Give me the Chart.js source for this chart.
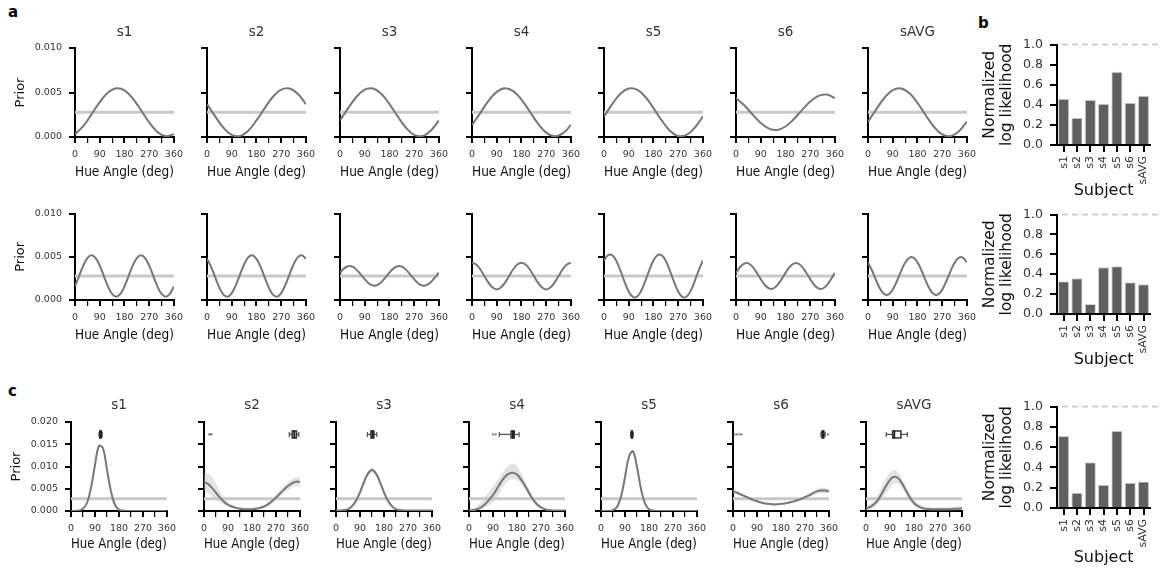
<!DOCTYPE html>
<html>
<head>
<meta charset="utf-8">
<script src="https://cdn.jsdelivr.net/npm/chart.js@4.4.1/dist/chart.umd.min.js"></script>
<style>
  body { margin: 0; background: #fff; width: 1161px; height: 570px; position: relative; overflow: hidden; }
  .panel { position: absolute; }
  .tag { position: absolute; font: bold 15px 'DejaVu Sans', sans-serif; line-height: 15px; color: #000; }
</style>
</head>
<body>
<div class="tag" style="left:8px;top:5px">a</div>
<div class="tag" style="left:978px;top:16px">b</div>
<div class="tag" style="left:8px;top:384px">c</div>
<script>
// ---- data ----
const subjects = ['s1', 's2', 's3', 's4', 's5', 's6', 'sAVG'];
const uniformPrior = 0.00278;
const anglesCoarse = [0, 30, 60, 90, 120, 150, 180, 210, 240, 270, 300, 330, 360];
const anglesFine = [0, 15, 30, 45, 60, 75, 90, 105, 120, 135, 150, 165, 180,
  195, 210, 225, 240, 255, 270, 285, 300, 315, 330, 345, 360];

// panel a, top row (first harmonic prior), one list per subject
const priorFirst = [
  [0.0003, 0.00123, 0.00254, 0.00392, 0.00499, 0.00547, 0.00523, 0.00433, 0.00302, 0.00164, 0.00057, 0.00009, 0.0003],
  [0.0037, 0.00231, 0.00104, 0.00024, 0.00012, 0.00071, 0.00186, 0.00325, 0.00452, 0.00532, 0.00544, 0.00485, 0.0037],
  [0.00186, 0.00325, 0.00452, 0.00532, 0.00544, 0.00485, 0.0037, 0.00231, 0.00104, 0.00024, 0.00012, 0.00071, 0.00186],
  [0.00135, 0.00269, 0.00405, 0.00507, 0.00548, 0.00516, 0.00421, 0.00287, 0.00151, 0.00049, 0.00008, 0.0004, 0.00135],
  [0.00231, 0.0037, 0.00485, 0.00544, 0.00532, 0.00452, 0.00325, 0.00186, 0.00071, 0.00012, 0.00024, 0.00104, 0.00231],
  [0.00438, 0.00356, 0.00254, 0.00158, 0.00094, 0.00079, 0.00118, 0.002, 0.00302, 0.00398, 0.00462, 0.00477, 0.00438],
  [0.00172, 0.00311, 0.00441, 0.00527, 0.00546, 0.00494, 0.00384, 0.00245, 0.00115, 0.00029, 0.0001, 0.00062, 0.00172]
];

// panel a, bottom row (second harmonic prior)
const priorSecond = [
  [0.00158, 0.00278, 0.00398, 0.00486, 0.00518, 0.00486, 0.00398, 0.00278, 0.00158, 0.0007, 0.00038, 0.0007, 0.00158,
   0.00278, 0.00398, 0.00486, 0.00518, 0.00486, 0.00398, 0.00278, 0.00158, 0.0007, 0.00038, 0.0007, 0.00158],
  [0.00477, 0.00383, 0.00261, 0.00144, 0.00062, 0.00038, 0.00079, 0.00173, 0.00295, 0.00412, 0.00494, 0.00518, 0.00477,
   0.00383, 0.00261, 0.00144, 0.00062, 0.00038, 0.00079, 0.00173, 0.00295, 0.00412, 0.00494, 0.00518, 0.00477],
  [0.00317, 0.00366, 0.00391, 0.00386, 0.00352, 0.00298, 0.00241, 0.00192, 0.00167, 0.00172, 0.00206, 0.0026, 0.00317,
   0.00366, 0.00391, 0.00386, 0.00352, 0.00298, 0.00241, 0.00192, 0.00167, 0.00172, 0.00206, 0.0026, 0.00317],
  [0.00433, 0.00412, 0.00356, 0.00278, 0.00201, 0.00144, 0.00123, 0.00144, 0.00201, 0.00278, 0.00356, 0.00412, 0.00433,
   0.00412, 0.00356, 0.00278, 0.00201, 0.00144, 0.00123, 0.00144, 0.00201, 0.00278, 0.00356, 0.00412, 0.00433],
  [0.00458, 0.00521, 0.00518, 0.00452, 0.00339, 0.00209, 0.00098, 0.00036, 0.00038, 0.00104, 0.00218, 0.00347, 0.00458,
   0.00521, 0.00518, 0.00452, 0.00339, 0.00209, 0.00098, 0.00036, 0.00038, 0.00104, 0.00218, 0.00347, 0.00458],
  [0.00314, 0.00382, 0.00422, 0.00424, 0.00386, 0.00319, 0.00242, 0.00174, 0.00134, 0.00132, 0.0017, 0.00237, 0.00314,
   0.00382, 0.00422, 0.00424, 0.00386, 0.00319, 0.00242, 0.00174, 0.00134, 0.00132, 0.0017, 0.00237, 0.00314],
  [0.00436, 0.00339, 0.00225, 0.00125, 0.00067, 0.00065, 0.0012, 0.00217, 0.00331, 0.00431, 0.00489, 0.00491, 0.00436,
   0.00339, 0.00225, 0.00125, 0.00067, 0.00065, 0.0012, 0.00217, 0.00331, 0.00431, 0.00489, 0.00491, 0.00436]
];

// panel c, full prior: mean curve and shaded band (null = band too thin to draw)
const priorFull = [
  [0, 0, 0.0001, 0.0005, 0.0018, 0.0052, 0.0103, 0.0146, 0.0141, 0.0093, 0.0044, 0.0014, 0.0003, 0.0001, 0, 0, 0, 0, 0, 0, 0, 0, 0, 0, 0],
  [0.0065, 0.0061, 0.0052, 0.0041, 0.003, 0.0021, 0.0014, 0.001, 0.0007, 0.0005, 0.0004, 0.0004, 0.0004, 0.0005, 0.0007, 0.001, 0.0015, 0.0022, 0.003, 0.0039, 0.0048, 0.0056, 0.0062, 0.0066, 0.0065],
  [0.0001, 0.0001, 0.0002, 0.0004, 0.0011, 0.0023, 0.0042, 0.0065, 0.0084, 0.0092, 0.0084, 0.0065, 0.0042, 0.0023, 0.0011, 0.0004, 0.0002, 0.0001, 0.0001, 0.0001, 0.0001, 0.0001, 0.0001, 0.0001, 0.0001],
  [0.0001, 0.0002, 0.0004, 0.0008, 0.0015, 0.0025, 0.0036, 0.005, 0.0065, 0.0077, 0.0084, 0.0086, 0.0082, 0.0071, 0.0057, 0.0041, 0.0026, 0.0015, 0.0008, 0.0004, 0.0002, 0.0001, 0.0001, 0.0001, 0.0001],
  [0, 0, 0, 0.0002, 0.0009, 0.0032, 0.0076, 0.0122, 0.0134, 0.0099, 0.005, 0.0017, 0.0004, 0.0001, 0, 0, 0, 0, 0, 0, 0, 0, 0, 0, 0],
  [0.0044, 0.0041, 0.0037, 0.0033, 0.0029, 0.0025, 0.0022, 0.0019, 0.0017, 0.0016, 0.0015, 0.0015, 0.0016, 0.0017, 0.0019, 0.0021, 0.0024, 0.0027, 0.0031, 0.0035, 0.004, 0.0044, 0.0046, 0.0046, 0.0044],
  [0.0006, 0.0009, 0.0015, 0.0025, 0.004, 0.0056, 0.007, 0.0077, 0.0074, 0.0062, 0.0046, 0.003, 0.0018, 0.0011, 0.0007, 0.0005, 0.0004, 0.0004, 0.0004, 0.0004, 0.0004, 0.0004, 0.0005, 0.0005, 0.0006]
];
const priorFullLow = [
  null,
  [0.0045, 0.004, 0.0032, 0.0025, 0.0019, 0.0014, 0.001, 0.0007, 0.0005, 0.0003, 0.0002, 0.0002, 0.0002, 0.0003, 0.0004, 0.0007, 0.0011, 0.0017, 0.0024, 0.0032, 0.004, 0.0047, 0.0053, 0.0056, 0.0055],
  [0, 0, 0.0001, 0.0002, 0.0007, 0.0018, 0.0036, 0.0059, 0.0078, 0.0086, 0.0078, 0.0059, 0.0036, 0.0018, 0.0007, 0.0002, 0.0001, 0, 0, 0, 0, 0, 0, 0, 0],
  [0, 0.0001, 0.0002, 0.0004, 0.0008, 0.0013, 0.002, 0.0031, 0.0046, 0.006, 0.0069, 0.0072, 0.007, 0.0061, 0.0048, 0.0034, 0.0021, 0.0012, 0.0006, 0.0003, 0.0001, 0, 0, 0, 0],
  null,
  [0.004, 0.0037, 0.0034, 0.003, 0.0026, 0.0023, 0.002, 0.0017, 0.0015, 0.0014, 0.0013, 0.0013, 0.0014, 0.0015, 0.0017, 0.0019, 0.0021, 0.0024, 0.0027, 0.0031, 0.0035, 0.0039, 0.004, 0.004, 0.004],
  [0.0003, 0.0005, 0.0009, 0.0016, 0.0027, 0.004, 0.0053, 0.0062, 0.0062, 0.0052, 0.0037, 0.0022, 0.0012, 0.0006, 0.0003, 0.0002, 0.0001, 0.0001, 0.0001, 0.0001, 0.0001, 0.0001, 0.0001, 0.0002, 0.0003]
];
const priorFullHigh = [
  null,
  [0.0085, 0.0084, 0.0076, 0.0061, 0.0044, 0.003, 0.002, 0.0014, 0.001, 0.0008, 0.0007, 0.0007, 0.0007, 0.0008, 0.0011, 0.0014, 0.002, 0.0028, 0.0037, 0.0047, 0.0057, 0.0065, 0.0071, 0.0076, 0.0076],
  [0.0003, 0.0003, 0.0004, 0.0007, 0.0015, 0.0028, 0.0048, 0.0071, 0.009, 0.0098, 0.009, 0.0071, 0.0048, 0.0028, 0.0015, 0.0007, 0.0004, 0.0002, 0.0002, 0.0002, 0.0002, 0.0002, 0.0002, 0.0002, 0.0002],
  [0.0003, 0.0006, 0.0011, 0.0019, 0.003, 0.0043, 0.0055, 0.0067, 0.0081, 0.0094, 0.0103, 0.0106, 0.01, 0.0086, 0.0068, 0.005, 0.0033, 0.002, 0.0011, 0.0006, 0.0003, 0.0002, 0.0001, 0.0001, 0.0001],
  null,
  [0.0049, 0.0045, 0.004, 0.0036, 0.0032, 0.0028, 0.0024, 0.0021, 0.0019, 0.0018, 0.0017, 0.0017, 0.0018, 0.0019, 0.0021, 0.0023, 0.0027, 0.003, 0.0035, 0.0039, 0.0045, 0.0049, 0.0052, 0.0052, 0.0049],
  [0.001, 0.0015, 0.0024, 0.0037, 0.0055, 0.0073, 0.0087, 0.0092, 0.0087, 0.0073, 0.0056, 0.0039, 0.0025, 0.0017, 0.0012, 0.0009, 0.0008, 0.0008, 0.0008, 0.0008, 0.0008, 0.0008, 0.0009, 0.001, 0.001]
];

// panel c, box plots of the fitted prior peak (deg)
const boxLo = [105, 320, 118, 114, 111, 330, 76];
const boxQ1 = [108, 331, 131, 158, 114, 334, 100];
const boxMed = [111, 339, 137, 165, 116, 338, 106];
const boxQ3 = [114, 347, 142, 170, 118, 341, 131];
const boxHi = [117, 356, 153, 188, 121, 346, 155];
const boxFliers = [[], [20, 24, 28], [], [90, 100], [], [5, 14, 24, 32, 356], []];
const boxLevel = 0.0172;

// panel b / c, normalized log likelihood
const llFirst = [0.46, 0.27, 0.45, 0.41, 0.73, 0.42, 0.49];
const llSecond = [0.33, 0.36, 0.10, 0.47, 0.48, 0.32, 0.30];
const llFull = [0.71, 0.15, 0.45, 0.23, 0.76, 0.25, 0.26];
const llCeiling = 1.0;

// ---- drawing ----
const FONT = "'DejaVu Sans', sans-serif";
Chart.defaults.font.family = FONT;
Chart.defaults.color = '#333';

function addCanvas(left, top, width, height) {
  const d = document.createElement('div');
  d.className = 'panel';
  d.style.left = left + 'px';
  d.style.top = top + 'px';
  const c = document.createElement('canvas');
  c.width = width;
  c.height = height;
  c.style.width = width + 'px';
  c.style.height = height + 'px';
  d.appendChild(c);
  document.body.appendChild(d);
  return c;
}

const boxPlugin = {
  id: 'boxMarks',
  afterDatasetsDraw(chart, args, opts) {
    const i = opts.index;
    if (i === undefined || i === null) return;
    const { ctx, scales: { x, y } } = chart;
    const py = y.getPixelForValue(boxLevel);
    const px = v => x.getPixelForValue(v);
    ctx.save();
    ctx.strokeStyle = '#555';
    ctx.lineWidth = 1.2;
    ctx.beginPath();
    ctx.moveTo(px(boxLo[i]), py); ctx.lineTo(px(boxQ1[i]), py);
    ctx.moveTo(px(boxQ3[i]), py); ctx.lineTo(px(boxHi[i]), py);
    ctx.moveTo(px(boxLo[i]), py - 2.5); ctx.lineTo(px(boxLo[i]), py + 2.5);
    ctx.moveTo(px(boxHi[i]), py - 2.5); ctx.lineTo(px(boxHi[i]), py + 2.5);
    ctx.stroke();
    const x1 = px(boxQ1[i]), x2 = px(boxQ3[i]);
    ctx.fillStyle = '#fff';
    ctx.fillRect(x1, py - 3.5, x2 - x1, 7);
    ctx.strokeStyle = '#333';
    ctx.lineWidth = 1.5;
    ctx.strokeRect(x1, py - 3.5, x2 - x1, 7);
    ctx.beginPath();
    ctx.moveTo(px(boxMed[i]), py - 4);
    ctx.lineTo(px(boxMed[i]), py + 4);
    ctx.strokeStyle = '#222';
    ctx.lineWidth = 2;
    ctx.stroke();
    ctx.fillStyle = '#777';
    boxFliers[i].forEach(v => {
      ctx.beginPath();
      ctx.arc(px(v), py, 1.1, 0, Math.PI * 2);
      ctx.fill();
    });
    ctx.restore();
  }
};

const refLinePlugin = {
  id: 'refLine',
  beforeDatasetsDraw(chart) {
    const { ctx, chartArea, scales: { y } } = chart;
    const py = y.getPixelForValue(llCeiling);
    ctx.save();
    ctx.strokeStyle = '#cfcfcf';
    ctx.lineWidth = 2;
    ctx.setLineDash([6, 4]);
    ctx.beginPath();
    ctx.moveTo(chartArea.left + 5, py);
    ctx.lineTo(chart.width, py);
    ctx.stroke();
    ctx.restore();
  }
};

function priorPanel(p) {
  const canvas = addCanvas(p.axisX - p.yW, p.top, p.yW + p.plotW + 12, p.height);
  const pts = vals => p.angles.map((a, k) => ({ x: a, y: vals[k] }));
  const datasets = [
    { data: pts(p.values), xAxisID: 'x', borderColor: '#777', borderWidth: 2, pointRadius: 0, tension: 0.4, fill: false },
    { data: [p.angles[0], p.angles[p.angles.length - 1]].map(a => ({ x: a, y: uniformPrior })), xAxisID: 'x',
      borderColor: '#c9c9c9', borderWidth: 3, pointRadius: 0, fill: false }
  ];
  if (p.low) {
    datasets.push({ data: pts(p.low), xAxisID: 'x', borderColor: 'rgba(0,0,0,0)', borderWidth: 0, pointRadius: 0,
      tension: 0.4, fill: false });
    datasets.push({ data: pts(p.high), xAxisID: 'x', borderColor: 'rgba(0,0,0,0)', borderWidth: 0, pointRadius: 0,
      tension: 0.4, fill: '-1', backgroundColor: 'rgba(185,185,185,0.4)' });
  }
  const first = p.col === 0;
  new Chart(canvas, {
    type: 'line',
    data: { datasets },
    plugins: p.box ? [boxPlugin] : [],
    options: {
      responsive: false,
      animation: false,
      events: [],
      layout: { padding: { top: p.title ? 0 : 10, right: 12, left: 0, bottom: 0 } },
      plugins: {
        legend: { display: false },
        tooltip: { enabled: false },
        boxMarks: p.box ? { index: p.col } : {}
      },
      scales: {
        x: {
          type: 'linear', min: 0, max: 360,
          ticks: { stepSize: 45, autoSkip: false, maxRotation: 0, padding: 6, color: '#333',
            font: { size: 9.5 }, callback: v => (v % 90 === 0 ? String(v) : '') },
          grid: { display: true, drawOnChartArea: false, tickLength: 6, color: '#000',
            lineWidth: c => (c.tick && c.tick.value % 90 !== 0 ? 1.2 : 2) },
          border: { display: true, color: '#000', width: 2 },
          title: { display: true, text: 'Hue Angle (deg)', color: '#111', font: { size: 13.5 },
            padding: { top: 0, bottom: p.xTitlePad } },
          afterFit: s => { s.height = 46; }
        },
        // top axis only carries the subject name, centred over the plot
        xt: {
          type: 'linear', position: 'top', min: 0, max: 360, display: !!p.title,
          ticks: { display: false },
          grid: { display: false, drawTicks: false },
          border: { display: false },
          title: { display: true, text: p.title || '', color: '#333', font: { size: 13.5 },
            padding: { top: 0, bottom: 0 } },
          afterFit: s => { s.height = p.titleH || 0; }
        },
        y: {
          min: 0, max: p.yMax,
          ticks: { stepSize: p.yStep, padding: 7, color: '#333', font: { size: 9.5 },
            callback: v => (first ? v.toFixed(3) : '') },
          grid: { display: true, drawOnChartArea: false, tickLength: 6, color: '#000', lineWidth: 2 },
          border: { display: true, color: '#000', width: 2 },
          title: { display: first, text: 'Prior', color: '#111', font: { size: 13 }, padding: { top: 0, bottom: 0 } },
          afterFit: s => { s.width = p.yW; }
        }
      }
    }
  });
}

function likelihoodPanel(values, top, height, xHeight) {
  const canvas = addCanvas(975, top, 186, height);
  new Chart(canvas, {
    type: 'bar',
    data: {
      labels: subjects,
      datasets: [{ data: values, backgroundColor: '#606060', borderColor: '#d4d4d4', borderWidth: 1,
        barPercentage: 0.84, categoryPercentage: 1 }]
    },
    plugins: [refLinePlugin],
    options: {
      responsive: false,
      animation: false,
      events: [],
      layout: { padding: { top: 10, right: 4, left: 0, bottom: 0 } },
      plugins: { legend: { display: false }, tooltip: { enabled: false } },
      scales: {
        x: {
          ticks: { minRotation: 90, maxRotation: 90, autoSkip: false, padding: 4, color: '#333', font: { size: 11 } },
          grid: { display: true, drawOnChartArea: false, offset: false, tickLength: 7, color: '#000', lineWidth: 2 },
          border: { display: true, color: '#000', width: 2 },
          title: { display: true, text: 'Subject', color: '#111', font: { size: 16 }, padding: { top: 0, bottom: 1 } },
          afterFit: s => { s.height = xHeight; }
        },
        y: {
          min: 0, max: 1,
          ticks: { stepSize: 0.2, padding: 7, color: '#333', font: { size: 12.5 }, callback: v => v.toFixed(1) },
          grid: { display: true, drawOnChartArea: false, tickLength: 7, color: '#000', lineWidth: 2 },
          border: { display: true, color: '#000', width: 2 },
          title: { display: true, text: ['Normalized', 'log likelihood'], color: '#111',
            font: { size: 15.5, lineHeight: 1.1 }, padding: { top: 6, bottom: 0 } },
          afterFit: s => { s.width = 82; }
        }
      }
    }
  });
}

const colsA = [75, 207, 340, 472, 604, 736, 868];
const colsC = [71, 204, 336, 469, 601, 733, 866];

subjects.forEach((name, i) => {
  const yW = i === 0 ? 62 : 12;
  priorPanel({ col: i, axisX: colsA[i], yW, plotW: 102, top: 24, height: 159, title: name, titleH: 24,
    xTitlePad: 2, angles: anglesCoarse, values: priorFirst[i], yMax: 0.01, yStep: 0.005 });
  priorPanel({ col: i, axisX: colsA[i], yW, plotW: 102, top: 201, height: 145, title: null,
    xTitlePad: 2, angles: anglesFine, values: priorSecond[i], yMax: 0.01, yStep: 0.005 });
  priorPanel({ col: i, axisX: colsC[i], yW, plotW: 99, top: 397, height: 160, title: name, titleH: 25,
    xTitlePad: 4, angles: anglesFine, values: priorFull[i], low: priorFullLow[i], high: priorFullHigh[i],
    yMax: 0.02, yStep: 0.005, box: true });
});

likelihoodPanel(llFirst, 30, 171, 56);
likelihoodPanel(llSecond, 200, 170, 56);
likelihoodPanel(llFull, 392, 176, 60);
</script>
</body>
</html>
